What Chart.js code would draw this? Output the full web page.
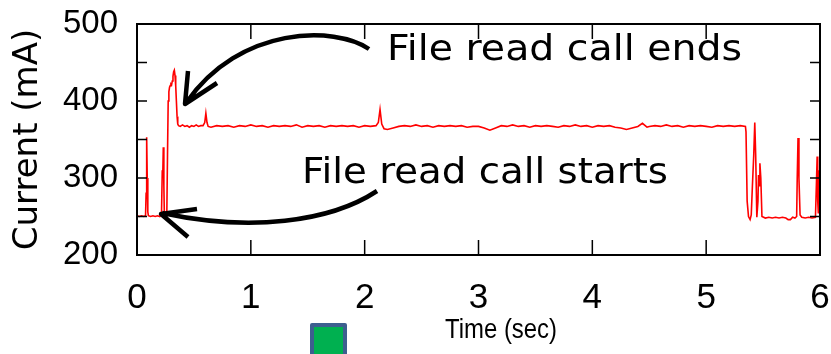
<!DOCTYPE html>
<html>
<head>
<meta charset="utf-8">
<script src="https://cdn.jsdelivr.net/npm/chart.js@4.4.1/dist/chart.umd.min.js"></script>
<style>
html,body{margin:0;padding:0;background:#fff;}
#wrap{width:831px;height:354px;position:relative;}
</style>
</head>
<body>
<div id="wrap"><canvas id="c"></canvas></div>
<script>
// time (s) and current (mA)
const timeSec = [
  0.000,0.020,0.040,0.060,0.075,0.080,0.085,0.090,0.095,0.100,0.120,0.140,0.160,0.180,0.200,0.215,0.222,0.226,0.231,0.236,0.240,0.250,
  0.262,0.268,0.274,0.280,0.286,0.292,0.298,0.304,0.310,0.316,0.322,0.328,0.334,0.340,0.346,0.352,0.358,0.365,
  0.380,0.400,0.420,0.440,0.460,0.480,0.500,0.520,0.540,0.560,0.580,0.595,0.605,0.615,0.625,
  0.65,0.70,0.75,0.80,0.85,0.90,0.95,1.00,1.05,1.10,1.15,1.20,1.25,1.30,1.35,1.40,1.45,1.50,1.55,1.60,
  1.65,1.70,1.75,1.80,1.85,1.90,1.95,2.00,2.05,2.10,2.12,2.135,2.15,2.17,2.20,2.25,2.30,2.35,2.40,2.45,
  2.50,2.55,2.60,2.65,2.70,2.75,2.80,2.85,2.90,2.95,3.00,3.05,3.10,3.15,3.20,3.25,3.30,3.35,3.40,3.45,
  3.50,3.55,3.60,3.65,3.70,3.75,3.80,3.85,3.90,3.95,4.00,4.05,4.10,4.15,4.20,4.25,4.30,4.35,4.40,4.44,
  4.48,4.50,4.55,4.60,4.65,4.70,4.75,4.80,4.85,4.90,4.95,5.00,5.05,5.10,5.15,5.20,5.25,5.30,5.345,
  5.350,5.360,5.372,5.386,5.396,5.406,5.418,5.427,5.435,5.445,5.455,5.460,5.466,5.472,5.480,5.490,
  5.52,5.55,5.58,5.61,5.64,5.67,5.70,5.72,5.74,5.76,5.78,5.795,5.800,5.807,5.815,5.825,5.84,5.87,5.90,
  5.93,5.96,5.970,5.975,5.980,5.985,5.990,5.995,6.000
];
const currentMa = [
  251,250,251,250,251,280,353,300,256,251,250,251,250,251,250,252,310,300,340,290,255,252,
  255,330,400,412,418,420,422,421,426,432,438,440,433,420,400,380,370,368,
  367,369,367,368,366,368,367,369,367,368,368,372,384,372,367,
  366,368,367,368,366,368,367,369,367,368,366,368,367,368,367,369,366,368,367,368,
  366,368,367,368,367,368,366,368,367,368,372,389,370,364,363,365,367,368,367,369,
  367,368,366,368,367,368,367,368,366,367,367,365,362,365,368,367,369,367,368,366,
  368,367,368,367,366,368,367,369,367,368,366,368,367,368,366,365,363,365,367,371,
  366,367,368,367,369,367,368,366,368,367,368,367,366,368,367,368,367,368,367,
  360,270,250,246,252,289,330,372,330,249,270,304,290,319,300,250,
  248,249,248,249,248,249,248,246,246,249,248,250,300,352,300,252,249,248,249,
  248,249,300,328,270,255,310,280,250
];
const xTickValues = [0,1,2,3,4,5,6];
const yTickValues = [200,250,300,350,400,450,500];

const annotations = {
  endsLabel: 'File read call ends',
  startsLabel: 'File read call starts',
  xTitle: 'Time (sec)',
  yTitle: 'Current (mA)'
};

const sansFamily = '"Liberation Sans", Arial, sans-serif';

const decor = {
  id:'decor',
  afterDraw(chart){
    const {ctx, chartArea:a, scales:{x, y}} = chart;
    ctx.save();
    ctx.strokeStyle = '#000';
    ctx.lineWidth = 2;
    ctx.strokeRect(a.left, a.top, a.right - a.left, a.bottom - a.top);
    // inward ticks
    ctx.beginPath();
    xTickValues.forEach(v => {
      const px = x.getPixelForValue(v);
      ctx.moveTo(px, a.bottom); ctx.lineTo(px, a.bottom - 15);
      ctx.moveTo(px, a.top); ctx.lineTo(px, a.top + 15);
    });
    yTickValues.forEach(v => {
      const py = y.getPixelForValue(v);
      ctx.moveTo(a.left, py); ctx.lineTo(a.left + 10, py);
      ctx.moveTo(a.right, py); ctx.lineTo(a.right - 10, py);
    });
    ctx.lineWidth = 1.5;
    ctx.stroke();

    // curved arrows
    ctx.lineWidth = 4.5;
    ctx.lineJoin = 'round';
    ctx.beginPath();
    ctx.moveTo(369, 49);
    ctx.bezierCurveTo(335, 26, 240, 25, 186, 103);
    ctx.moveTo(188, 71); ctx.lineTo(185, 104); ctx.lineTo(217, 83);
    ctx.moveTo(377, 191);
    ctx.bezierCurveTo(330, 222, 250, 232, 162, 213);
    ctx.moveTo(197, 209); ctx.lineTo(161, 214); ctx.lineTo(188, 237);
    ctx.stroke();

    // annotation text, stretched to the widths seen in the picture
    ctx.fillStyle = '#000';
    ctx.textBaseline = 'alphabetic';
    ctx.textAlign = 'left';
    const stretched = (t, tx, ty, w) => {
      const sx = w / ctx.measureText(t).width;
      ctx.save(); ctx.translate(tx, ty); ctx.scale(sx, 1); ctx.fillText(t, 0, 0); ctx.restore();
    };
    ctx.font = '35px "DejaVu Sans", sans-serif';
    stretched(annotations.endsLabel, 387, 60, 355);
    stretched(annotations.startsLabel, 302, 183, 366);

    // x axis title (sits right of centre in the original)
    ctx.font = '27px ' + sansFamily;
    stretched(annotations.xTitle, 445, 338, 112);

    // small square below the axis
    ctx.fillStyle = '#00b050';
    ctx.strokeStyle = '#3d5f8f';
    ctx.lineWidth = 4;
    ctx.fillRect(312, 325, 33, 40);
    ctx.strokeRect(312, 325, 33, 40);
    ctx.restore();
  }
};

new Chart(document.getElementById('c'), {
  type:'line',
  data:{
    datasets:[{
      data: timeSec.map((t, i) => ({x:t, y:currentMa[i]})),
      borderColor:'#ff0000',
      borderWidth:1.6,
      pointRadius:0,
      tension:0,
      fill:false
    }]
  },
  options:{
    responsive:true,
    maintainAspectRatio:false,
    animation:false,
    events:[],
    layout:{padding:{top:24, right:11, left:0, bottom:0}},
    plugins:{legend:{display:false}, tooltip:{enabled:false}},
    scales:{
      x:{
        type:'linear', min:0, max:6,
        grid:{display:false, drawTicks:false},
        border:{display:false},
        ticks:{stepSize:1, color:'#000', font:{family:sansFamily, size:35}, padding:22, maxRotation:0},
        afterFit(s){ s.height = 99; s.paddingLeft = 0; s.paddingRight = 0; }
      },
      y:{
        min:200, max:500,
        grid:{display:false, drawTicks:false},
        border:{display:false},
        ticks:{stepSize:100, color:'#000', font:{family:sansFamily, size:33}, padding:19},
        title:{display:true, text:annotations.yTitle, color:'#000',
               font:{family:'"DejaVu Sans", sans-serif', size:34}, padding:{top:8, bottom:0}},
        afterFit(s){ s.width = 137; s.paddingTop = 0; s.paddingBottom = 0; }
      }
    }
  },
  plugins:[decor]
});
</script>
</body>
</html>
